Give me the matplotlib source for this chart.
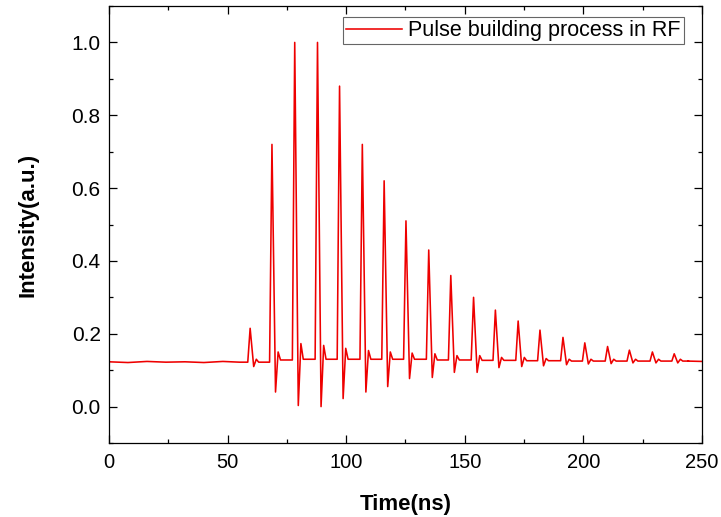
import matplotlib
matplotlib.use("Agg")
import matplotlib.pyplot as plt
from matplotlib.ticker import MultipleLocator

plt.rcParams['font.family'] = ['Liberation Sans', 'DejaVu Sans']

# Pulse train (time in ns, intensity in a.u.)
pulse_t = [59.5, 68.7, 78.3, 87.9, 97.2, 106.8, 116.0, 125.2, 134.8, 144.1,
           153.7, 162.9, 172.5, 181.7, 191.4, 200.6, 210.2, 219.4, 229.1, 238.3]
pulse_peak = [0.215, 0.72, 1.0, 1.0, 0.88, 0.72, 0.62, 0.51, 0.43, 0.36,
              0.30, 0.265, 0.235, 0.21, 0.19, 0.175, 0.165, 0.155, 0.15, 0.145]
pulse_dip = [0.11, 0.04, 0.003, 0.0, 0.022, 0.04, 0.055, 0.077, 0.08, 0.094,
             0.094, 0.107, 0.11, 0.112, 0.115, 0.117, 0.118, 0.12, 0.12, 0.12]
pulse_ring = [0.13, 0.15, 0.173, 0.168, 0.16, 0.154, 0.15, 0.147, 0.145, 0.14,
              0.14, 0.135, 0.135, 0.132, 0.13, 0.13, 0.13, 0.13, 0.13, 0.13]
pulse_base = [0.122, 0.128, 0.13, 0.13, 0.13, 0.13, 0.13, 0.13, 0.128, 0.128,
              0.127, 0.127, 0.126, 0.126, 0.125, 0.125, 0.125, 0.125, 0.125, 0.125]

# Baseline before the pulses
pre_t = [0, 8, 16, 24, 32, 40, 48, 55]
pre_v = [0.123, 0.121, 0.124, 0.122, 0.123, 0.121, 0.124, 0.122]
end_t = [244, 250]
end_v = [0.125, 0.124]

xs, ys = list(pre_t), list(pre_v)
prev_base = pre_v[-1]
for t, pk, dp, rg, bs in zip(pulse_t, pulse_peak, pulse_dip, pulse_ring, pulse_base):
    xs += [t - 1.0, t, t + 1.5, t + 2.6, t + 3.6, t + 6.0]
    ys += [prev_base, pk, dp, rg, bs, bs]
    prev_base = bs
xs += end_t
ys += end_v

fig = plt.figure(figsize=(7.21, 5.17), dpi=100)
ax = fig.add_axes([0.1512, 0.1431, 0.9736 - 0.1512, 0.9884 - 0.1431])
ax.plot(xs, ys, color='#ee0000', lw=1.15, label='Pulse building process in RF')

ax.set_xlim(0, 250)
ax.set_ylim(-0.1, 1.1)
ax.xaxis.set_major_locator(MultipleLocator(50))
ax.xaxis.set_minor_locator(MultipleLocator(25))
ax.yaxis.set_major_locator(MultipleLocator(0.2))
ax.yaxis.set_minor_locator(MultipleLocator(0.1))
ax.tick_params(which='both', direction='in', top=True, right=True, labelsize=15, width=0.9)
ax.tick_params(axis='x', labelsize=14.5)
ax.tick_params(which='major', length=6)
ax.tick_params(which='minor', length=3)
ax.tick_params(axis='x', which='major', pad=7)
ax.tick_params(axis='y', which='major', pad=6)
for s in ax.spines.values():
    s.set_linewidth(0.9)
ax.set_yticks([0.0, 0.2, 0.4, 0.6, 0.8, 1.0])
ax.set_xlabel('Time(ns)', fontsize=16, fontweight='bold', labelpad=16)
ax.set_ylabel('Intensity(a.u.)', fontsize=16, fontweight='bold', labelpad=24)

leg = ax.legend(loc='upper right', bbox_to_anchor=(0.97, 0.9748), borderaxespad=0,
                fontsize=15.5, fancybox=False, edgecolor='#666666',
                handlelength=2.6, handletextpad=0.3, borderpad=0.15, framealpha=1)
leg.get_frame().set_linewidth(0.8)

fig.savefig('out.png', dpi=100)
